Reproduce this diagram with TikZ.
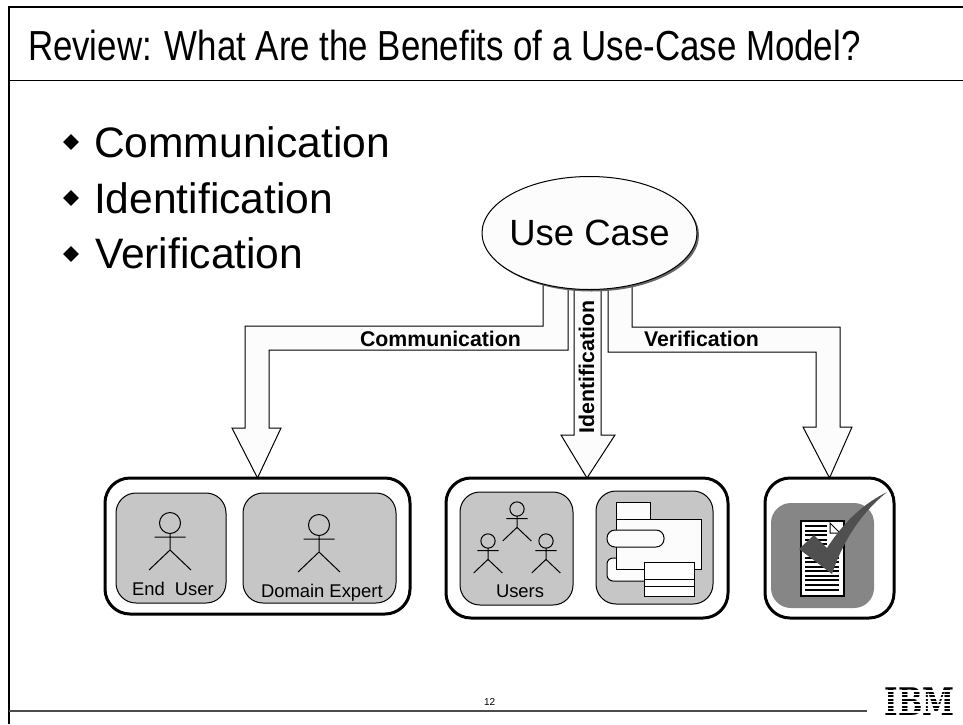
\documentclass[tikz,border=0pt]{standalone}
\usepackage{fontspec}
\setmainfont{Liberation Sans}
\newfontfamily\logofont{DejaVu Serif}
\usetikzlibrary{shapes.geometric, shadows}

\definecolor{panelgray}{HTML}{C6C6C6}
\definecolor{darkpanel}{HTML}{868686}
\definecolor{checkgray}{HTML}{505050}
\definecolor{paper}{HTML}{FCFCFC}

\tikzset{
    plaintext/.style={inner sep=0pt, outer sep=0pt, anchor=base west},
    bigbox/.style={draw, line width=3pt, rounded corners=25pt, inner sep=0pt, outer sep=0pt},
    panel/.style={draw, line width=1pt, fill=panelgray, rounded corners=20pt, inner sep=0pt, outer sep=0pt},
    bulletmark/.style={diamond, fill=black, minimum size=16pt, inner sep=0pt},
    blockarrow/.style={draw, line width=1pt, fill=paper, line join=miter},
    iconshape/.style={draw, line width=1pt, fill=paper},
    actor/.pic={
        \draw[line width=1pt] (0,0) circle (10.5);
        \draw[line width=1pt] (-15.5,14) -- (15.5,14) (0,10.5) -- (0,27) -- (-21,47) (0,27) -- (21,47);
    }
}

\begin{document}
\begin{tikzpicture}[x=1pt, y=-1pt]
    \useasboundingbox (0,0) rectangle (963,724);

    % Frame
    \draw[line width=2.5pt] (9,724) -- (9,7) -- (963,7);
    \draw[line width=1pt] (9,80) -- (963,80);
    \draw[line width=1.5pt, black!70] (9,711) -- (867,711);

    % Texts
    \node[plaintext, xscale=.83, font=\fontsize{42}{48}\selectfont] (title) at (28,60) {Review: What Are the Benefits of a Use-Case Model?};
    \node[plaintext, font=\fontsize{10}{12}\selectfont] (pagenum) at (484,705) {12};

    \node[bulletmark] (bulletone) at (71,142) {};
    \node[bulletmark] (bullettwo) at (71,198) {};
    \node[bulletmark] (bulletthree) at (71,254) {};
    \node[plaintext, font=\fontsize{42.6}{48}\selectfont] (commtext) at (94,157) {Communication};
    \node[plaintext, font=\fontsize{42.6}{48}\selectfont] (identtext) at (94,213) {Identification};
    \node[plaintext, font=\fontsize{42.6}{48}\selectfont] (veriftext) at (95,268) {Verification};

    % Boxes
    \node[bigbox, minimum width=305pt, minimum height=136pt] (commbox) at (257.5,546) {};
    \node[bigbox, minimum width=282pt, minimum height=140pt] (identbox) at (587,548) {};
    \node[bigbox, minimum width=129pt, minimum height=140pt] (verifbox) at (829.5,548) {};

    % Arrows
    \draw[blockarrow] (543,280) -- (543,326) -- (245,326) -- (245,428) -- (232,428) -- (commbox.north) -- (281,428) -- (269,428) -- (269,350) -- (568,350) -- (568,280) -- cycle;
    \draw[blockarrow] (574,280) -- (574,435) -- (561,435) -- (identbox.north) -- (615,435) -- (601,435) -- (601,280) -- cycle;
    \draw[blockarrow] (632,280) -- (632,327) -- (840,327) -- (840,427) -- (852,427) -- (verifbox.north) -- (803,427) -- (816,427) -- (816,352) -- (608,352) -- (608,280) -- cycle;

    \node[ellipse, draw, line width=1pt, fill=paper, minimum width=215pt, minimum height=113pt, inner sep=0pt,
          drop shadow={shadow xshift=2pt, shadow yshift=-2pt, fill=black!60, opacity=1},
          label={[font=\fontsize{36.5}{40}\selectfont]center:Use Case}] (usecase) at (589.5,233) {};

    % Arrow labels
    \node[plaintext, font=\bfseries\fontsize{21.3}{24}\selectfont] (commlabel) at (360,346) {Communication};
    \node[plaintext, font=\bfseries\fontsize{21.3}{24}\selectfont] (veriflabel) at (644,346) {Verification};
    \node[plaintext, rotate=90, font=\bfseries\fontsize{21.3}{24}\selectfont] (identlabel) at (594,433) {Identification};

    % Panels in the first box
    \node[panel, minimum width=110pt, minimum height=110pt] (enduserpanel) at (171,548) {};
    \node[panel, minimum width=153pt, minimum height=110pt] (domainpanel) at (319.5,548) {};
    \pic at (170,523) {actor};
    \pic at (319,525) {actor};
    \node[plaintext, font=\fontsize{18.4}{22}\selectfont] (endusertext) at (132,595) {End\ \ User};
    \node[plaintext, font=\fontsize{18.4}{22}\selectfont] (domaintext) at (261,597) {Domain Expert};

    % Panels in the second box
    \node[panel, minimum width=113pt, minimum height=113pt] (userspanel) at (516.5,548.5) {};
    \node[panel, minimum width=117pt, minimum height=113pt] (modelpanel) at (654.5,547.5) {};
    \pic[scale=.68] at (517,509) {actor};
    \pic[scale=.68] at (488,541) {actor};
    \pic[scale=.68] at (546,541) {actor};
    \node[plaintext, font=\fontsize{18.4}{22}\selectfont] (userstext) at (496,597) {Users};

    \draw[iconshape, rounded corners=6pt] (607,558) rectangle (660,581);
    \draw[iconshape] (616,502) rectangle (650,519);
    \draw[iconshape] (616,519) rectangle (701,569);
    \draw[iconshape, rounded corners=8pt] (607,530) rectangle (664,547);
    \draw[iconshape, fill=white] (644,562) rectangle (694,596);
    \draw[line width=1pt] (644,579) -- (694,579) (644,586) -- (694,586);

    % Panel in the third box
    \node[panel, draw=none, fill=darkpanel, minimum width=103pt, minimum height=105pt] (checkpanel) at (822.5,555.5) {};
    \draw[line width=2pt, fill=white] (801,521) rectangle (844,596);
    \foreach \rowy in {526,530.5,535,539.5,544} {
        \draw[line width=2pt] (805,\rowy) -- (827,\rowy);
    }
    \foreach \rowy in {548.5,553,557.5,562,566.5,571,575.5,580,584.5,590} {
        \draw[line width=2pt] (805,\rowy) -- (839,\rowy);
    }
    \draw[line width=1pt, fill=white] (830,523) -- (830,533) -- (840,533) -- cycle;
    \fill[checkgray] (799,549) -- (814,535) -- (827,548) .. controls (845,520) and (865,503) .. (887,492) .. controls (865,510) and (845,535) .. (832,574) -- cycle;

    % Logo
    \node[inner sep=0pt, outer sep=0pt, anchor=base, xscale=.76, font=\logofont\bfseries\fontsize{38}{40}\selectfont] (ibmlogo) at (919.5,715) {IBM};
    \foreach \stripey in {690,693.5,697,700.5,704,707.5,711} {
        \fill[white] (884,\stripey) rectangle (955,\stripey+1.8);
    }
\end{tikzpicture}
\end{document}
